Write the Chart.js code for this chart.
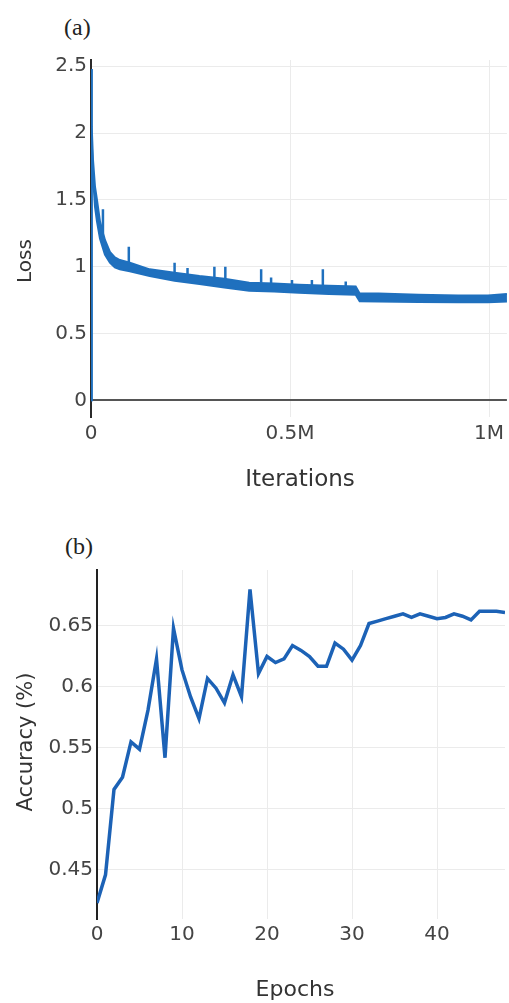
<!DOCTYPE html>
<html>
<head>
<meta charset="utf-8">
<script src="https://cdn.jsdelivr.net/npm/chart.js@4"></script>
<style>
  body { margin: 0; background: #fff; width: 509px; height: 1003px; overflow: hidden; position: relative; }
  .panel { position: absolute; left: 0; }
  .tag { position: absolute; font-family: 'Liberation Serif', serif; font-size: 24px; color: #222; line-height: 24px; }
</style>
</head>
<body>
<div class="tag" style="left:64px; top:15px;">(a)</div>
<div class="panel" style="top:0;"><canvas id="lossChart" width="509" height="500"></canvas></div>
<div class="tag" style="left:65px; top:534px;">(b)</div>
<div class="panel" style="top:520px;"><canvas id="accChart" width="509" height="483"></canvas></div>
<script>
// ---- loss curve (a): band envelope + spikes ----
const lossIter  = [0, 1000, 2500, 5000, 10000, 15000, 22500, 35000, 47500, 60000, 72500, 97500, 147500, 210000, 272500, 335000, 397500, 460000, 522500, 597500, 665000, 675000, 722500, 822500, 922500, 997500, 1045000];
const lossUpper = [0, 2.48, 2.05, 1.80, 1.60, 1.50, 1.34, 1.20, 1.11, 1.07, 1.05, 1.03, 0.98, 0.955, 0.93, 0.91, 0.88, 0.875, 0.865, 0.857, 0.852, 0.80, 0.80, 0.79, 0.785, 0.785, 0.795];
const lossLower = [0, 2.48, 1.95, 1.68, 1.45, 1.34, 1.21, 1.09, 1.03, 0.995, 0.98, 0.965, 0.93, 0.895, 0.87, 0.845, 0.82, 0.815, 0.805, 0.795, 0.79, 0.742, 0.74, 0.735, 0.733, 0.733, 0.74];

const spikeIter = [30000, 95000, 210000, 242500, 310000, 337500, 427500, 452500, 505000, 555000, 582500, 640000];
const spikeBase = [1.25, 1.03, 0.95, 0.94, 0.92, 0.91, 0.88, 0.875, 0.87, 0.86, 0.86, 0.855];
const spikePeak = [1.43, 1.15, 1.03, 0.99, 1.00, 1.00, 0.98, 0.92, 0.90, 0.90, 0.98, 0.89];

const lossTicks = [0, 0.5, 1, 1.5, 2, 2.5];
const iterTicks = [0, 500000, 1000000];
const iterTickLabels = ['0', '0.5M', '1M'];

// ---- accuracy curve (b) ----
const epochs = [0,1,2,3,4,5,6,7,8,9,10,11,12,13,14,15,16,17,18,19,20,21,22,23,24,25,26,27,28,29,30,31,32,33,34,35,36,37,38,39,40,41,42,43,44,45,46,47,48];
const accuracy = [0.423, 0.446, 0.516, 0.526, 0.555, 0.549, 0.581, 0.623, 0.542, 0.648, 0.614, 0.592, 0.574, 0.607, 0.599, 0.587, 0.610, 0.592, 0.680, 0.611, 0.625, 0.620, 0.623, 0.634, 0.630, 0.625, 0.617, 0.617, 0.636, 0.631, 0.622, 0.634, 0.652, 0.654, 0.656, 0.658, 0.660, 0.657, 0.660, 0.658, 0.656, 0.657, 0.660, 0.658, 0.655, 0.662, 0.662, 0.662, 0.661];
const accTicks = [0.45, 0.5, 0.55, 0.6, 0.65];
const epochTicks = [0, 10, 20, 30, 40];

Chart.defaults.font.family = "'DejaVu Sans', Verdana, sans-serif";
Chart.defaults.font.size = 20;
Chart.defaults.color = '#444';

const lossBlue = '#1f70be';
const accBlue = '#1c62b6';
const gridGrey = '#ebebeb';

// draws axis titles at fixed spots
const axisTitles = {
    id: 'axisTitles',
    afterDraw(chart, args, opts) {
        const ctx = chart.ctx;
        ctx.save();
        ctx.fillStyle = '#333';
        ctx.textAlign = 'center';
        ctx.textBaseline = 'middle';
        (opts.items || []).forEach(t => {
            ctx.save();
            ctx.font = t.size + "px 'DejaVu Sans', Verdana, sans-serif";
            ctx.translate(t.x, t.y);
            if (t.rotate) ctx.rotate(-Math.PI / 2);
            ctx.fillText(t.text, 0, 0);
            ctx.restore();
        });
        ctx.restore();
    }
};

function fixedTicks(values) {
    return scale => { scale.ticks = values.map(v => ({ value: v })); };
}

// (a) loss
const spikeData = [];
spikeIter.forEach((it, i) => {
    spikeData.push({ x: it, y: spikeBase[i] }, { x: it, y: spikePeak[i] }, { x: it, y: null });
});

new Chart(document.getElementById('lossChart'), {
    type: 'line',
    data: {
        datasets: [{
            data: lossIter.map((x, i) => ({ x: x, y: lossUpper[i] })),
            borderColor: lossBlue,
            borderWidth: 2,
            pointRadius: 0,
            tension: 0
        }, {
            data: lossIter.map((x, i) => ({ x: x, y: lossLower[i] })),
            borderColor: lossBlue,
            backgroundColor: lossBlue,
            borderWidth: 2,
            pointRadius: 0,
            tension: 0,
            fill: '-1'
        }, {
            data: spikeData,
            borderColor: lossBlue,
            borderWidth: 2.5,
            pointRadius: 0,
            spanGaps: false
        }]
    },
    options: {
        responsive: false,
        animation: false,
        layout: { padding: { top: 60, left: 0, right: 0, bottom: 0 } },
        plugins: {
            legend: { display: false },
            tooltip: { enabled: false },
            axisTitles: { items: [
                { text: 'Loss', x: 26, y: 261, rotate: true, size: 20 },
                { text: 'Iterations', x: 300, y: 480, size: 23 }
            ] }
        },
        scales: {
            x: {
                type: 'linear',
                min: 0,
                max: 1045000,
                afterBuildTicks: fixedTicks(iterTicks),
                afterFit: s => { s.height = 83; },
                grid: { color: gridGrey, drawTicks: false },
                border: { display: false },
                ticks: {
                    padding: 5,
                    maxRotation: 0,
                    callback: v => iterTickLabels[iterTicks.indexOf(v)]
                }
            },
            y: {
                min: -0.125,
                max: 2.547,
                afterBuildTicks: fixedTicks(lossTicks),
                afterFit: s => { s.width = 91; },
                grid: {
                    drawTicks: false,
                    color: c => c.tick && c.tick.value === 0 ? '#555' : gridGrey,
                    lineWidth: c => c.tick && c.tick.value === 0 ? 2 : 1
                },
                border: { display: true, color: '#2a2a2a', width: 2 },
                ticks: { padding: 4, callback: v => String(v) }
            }
        }
    },
    plugins: [axisTitles]
});

// (b) accuracy
new Chart(document.getElementById('accChart'), {
    type: 'line',
    data: {
        datasets: [{
            data: epochs.map((e, i) => ({ x: e, y: accuracy[i] })),
            borderColor: accBlue,
            borderWidth: 3.5,
            pointRadius: 0,
            tension: 0
        }]
    },
    options: {
        responsive: false,
        animation: false,
        layout: { padding: { top: 50, left: 0, right: 4, bottom: 0 } },
        plugins: {
            legend: { display: false },
            tooltip: { enabled: false },
            axisTitles: { items: [
                { text: 'Accuracy (%)', x: 27, y: 222, rotate: true, size: 21 },
                { text: 'Epochs', x: 295, y: 470, size: 22 }
            ] }
        },
        scales: {
            x: {
                type: 'linear',
                min: 0,
                max: 48,
                afterBuildTicks: fixedTicks(epochTicks),
                afterFit: s => { s.height = 84; },
                grid: { color: gridGrey, drawTicks: false },
                border: { display: false },
                ticks: { padding: 4, maxRotation: 0, callback: v => String(v) }
            },
            y: {
                min: 0.4098,
                max: 0.6959,
                afterBuildTicks: fixedTicks(accTicks),
                afterFit: s => { s.width = 97; },
                grid: { color: gridGrey, drawTicks: false },
                border: { display: true, color: '#222', width: 2 },
                ticks: { padding: 4, callback: v => String(v) }
            }
        }
    },
    plugins: [axisTitles]
});
</script>
</body>
</html>
